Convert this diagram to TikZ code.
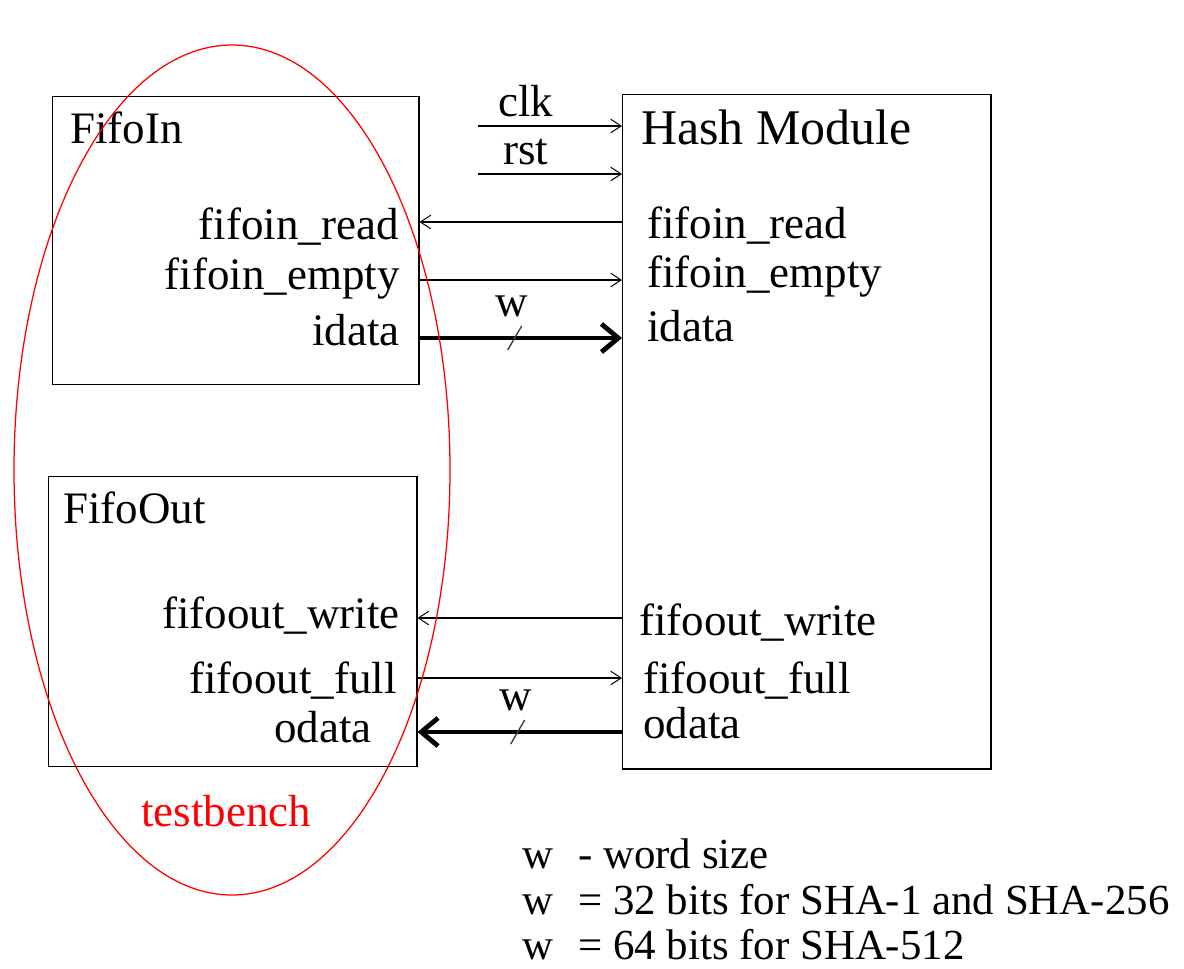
\documentclass[tikz,border=0pt]{standalone}
\usepackage{fontspec}
\setmainfont{Liberation Serif}
\usetikzlibrary{arrows.meta}

\newcommand{\sigsize}{\fontsize{32}{33}\selectfont}

\begin{document}
\begin{tikzpicture}[x=0.025cm, y=-0.025cm,
    blk/.style={draw, line width=1pt, inner sep=0pt, anchor=north west},
    sig/.style={line width=0.8pt, -{Straight Barb[length=2.6mm, width=3.4mm, line width=0.7pt]}},
    bus/.style={line width=3.4pt, -{Straight Barb[length=4.2mm, width=7mm]}},
    lbl/.style={font=\sigsize, inner sep=0pt},
    legd/.style={font=\fontsize{30.5}{32}\selectfont, inner sep=0pt, anchor=base west},
    slash/.style={line width=1pt, black!75}]
  \useasboundingbox (0,0) rectangle (1184,968);

  % blocks
  \node[blk, minimum width=9.15cm, minimum height=7.2cm] (fifoin) at (52,96) {};
  \node[blk, minimum width=9.2cm, minimum height=7.25cm] (fifoout) at (48,476) {};
  \node[blk, minimum width=9.2cm, minimum height=16.85cm] (hash) at (622,94) {};

  % block titles
  \node[lbl, anchor=base west] (tin) at (70,143) {FifoIn};
  \node[lbl, anchor=base west] (tout) at (63,523) {FifoOut};
  \node[lbl, anchor=base west, font=\fontsize{35.5}{37}\selectfont] (thash) at (641,144) {Hash Module};

  % port names
  \node[lbl, anchor=base east] (fi_rd) at (399,239) {fifoin\_read};
  \node[lbl, anchor=base east] (fi_em) at (400,289) {fifoin\_empty};
  \node[lbl, anchor=base east] (fi_id) at (400,345) {idata};
  \node[lbl, anchor=base west] (h_rd) at (647,238) {fifoin\_read};
  \node[lbl, anchor=base west] (h_em) at (647,287) {fifoin\_empty};
  \node[lbl, anchor=base west] (h_id) at (647,341) {idata};

  \node[lbl, anchor=base east] (fo_wr) at (400,628) {fifoout\_write};
  \node[lbl, anchor=base east] (fo_fu) at (397,693) {fifoout\_full};
  \node[lbl, anchor=base east] (fo_od) at (372,742) {odata};
  \node[lbl, anchor=base west] (h_wr) at (639,635) {fifoout\_write};
  \node[lbl, anchor=base west] (h_fu) at (643,693) {fifoout\_full};
  \node[lbl, anchor=base west] (h_od) at (643,738) {odata};

  % rows of the connectors
  \coordinate (clk) at (478,126);
  \coordinate (rst) at (478,174);
  \coordinate (r_rd) at (520,222);
  \coordinate (r_em) at (520,280);
  \coordinate (r_id) at (520,338);
  \coordinate (r_wr) at (520,618);
  \coordinate (r_fu) at (520,678);
  \coordinate (r_od) at (520,732);

  \draw[sig] (clk) -- node[lbl, pos=0.33, above=6pt] (lclk) {clk} (clk -| hash.west);
  \draw[sig] (rst) -- node[lbl, pos=0.33, above=6pt] (lrst) {rst} (rst -| hash.west);

  \draw[sig] (r_rd -| hash.west) -- (r_rd -| fifoin.east);
  \draw[sig] (r_em -| fifoin.east) -- (r_em -| hash.west);
  \draw[bus] (r_id -| fifoin.east) -- coordinate[pos=0.47] (s1) (r_id -| hash.west);

  \draw[sig] (r_wr -| hash.west) -- (r_wr -| fifoout.east);
  \draw[sig] (r_fu -| fifoout.east) -- (r_fu -| hash.west);
  \draw[bus] (r_od -| hash.west) -- coordinate[pos=0.51] (s2) (r_od -| fifoout.east);

  % bus width marks
  \draw[slash] (s1) ++(-7,12) -- ++(14,-24);
  \node[lbl] (w1) at (512,306) {w};
  \draw[slash] (s2) ++(-7,12) -- ++(14,-24);
  \node[lbl] (w2) at (516,700) {w};

  % testbench
  \draw[red, line width=0.9pt] (232,470) ellipse [x radius=218, y radius=425];
  \node[lbl, red, anchor=base] (tb) at (226,826) {testbench};

  % legend
  \node[legd] (leg1) at (522,868) {\makebox[1.4cm][l]{w}- word size};
  \node[legd] (leg2) at (522,914) {\makebox[1.4cm][l]{w}= 32 bits for SHA-1 and SHA-256};
  \node[legd] (leg3) at (522,959) {\makebox[1.4cm][l]{w}= 64 bits for SHA-512};
\end{tikzpicture}
\end{document}
